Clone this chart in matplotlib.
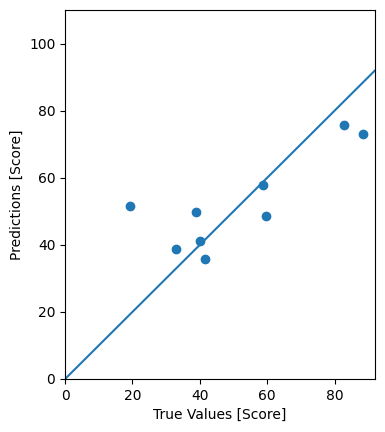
import numpy as np
import matplotlib
matplotlib.use('Agg')
import matplotlib.pyplot as plt

true_vals = [19.4, 33.0, 39.0, 40.2, 41.6, 58.7, 59.6, 82.9, 88.5]
preds = [51.7, 38.9, 49.9, 41.1, 35.9, 57.9, 48.7, 75.8, 73.1]
lims = [0, 110]

fig = plt.figure(figsize=(3.85, 4.32), dpi=100)
ax = fig.add_axes([0.169, 0.1227, 0.805, 0.854])
ax.scatter(true_vals, preds)
ax.plot(lims, lims)
ax.set_xlim(0, 92)
ax.set_ylim(lims)
ax.set_xlabel('True Values [Score]')
ax.set_ylabel('Predictions [Score]')
fig.savefig('out.png', dpi=100)
